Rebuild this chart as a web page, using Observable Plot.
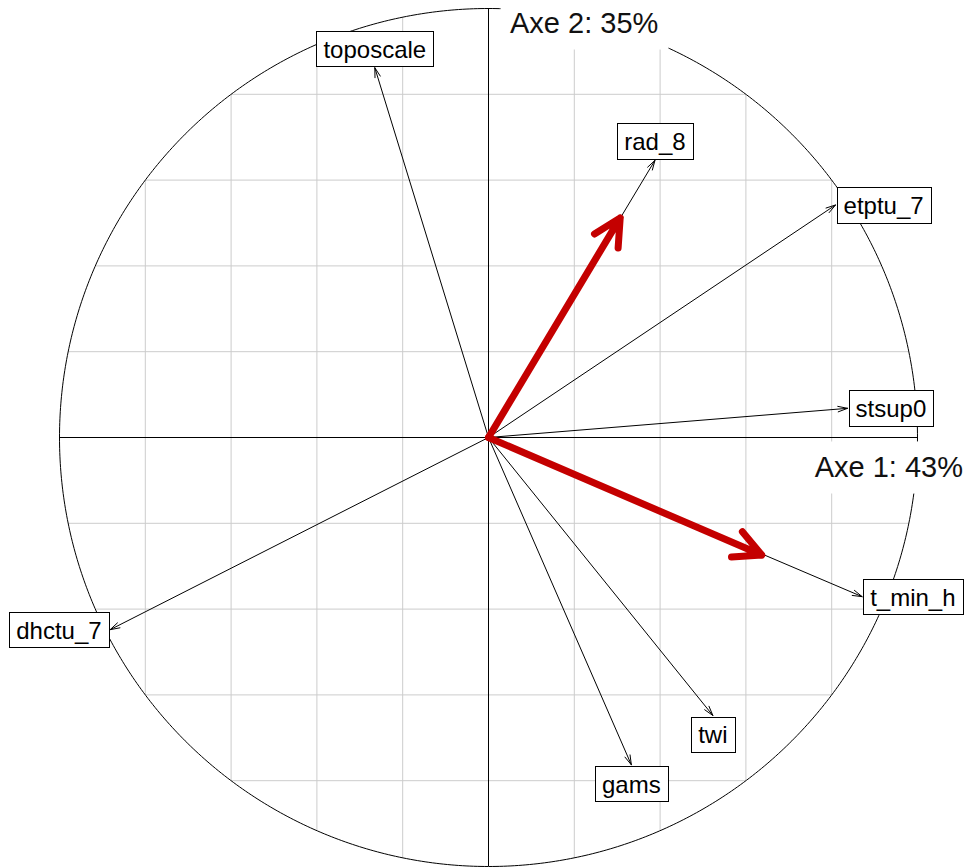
<!DOCTYPE html>
<html>
<head>
<meta charset="utf-8">
<script src="https://cdn.jsdelivr.net/npm/d3@7"></script>
<script src="https://cdn.jsdelivr.net/npm/@observablehq/plot@0.6"></script>
<style>
html, body { margin: 0; padding: 0; background: #fff; }
#chart svg { display: block; }
</style>
</head>
<body>
<div id="chart"></div>
<script>
// ---- data ----
const variables = ["toposcale", "rad_8", "etptu_7", "stsup0", "t_min_h", "twi", "gams", "dhctu_7"];
const axis1 = [-0.265, 0.388, 0.809, 0.837, 0.871, 0.523, 0.333, -0.882];
const axis2 = [0.862, 0.646, 0.542, 0.068, -0.371, -0.648, -0.763, -0.448];
const highlightX = [0.307, 0.637];
const highlightY = [0.512, -0.274];
const gridTicks = [-0.8, -0.6, -0.4, -0.2, 0.2, 0.4, 0.6, 0.8];
const axisTitles = ["Axe 1: 43%", "Axe 2: 35%"];

// ---- tables built from the arrays ----
function sideOf(x, y) {
  if (x > y && x > -y) return "right";
  if (x > y && x <= -y) return "bottom";
  if (x <= y && x <= -y) return "left";
  return "top";
}
const vars = variables.map((name, i) => ({name, x: axis1[i], y: axis2[i], side: sideOf(axis1[i], axis2[i])}));
const highlight = highlightX.map((x, i) => ({x, y: highlightY[i]}));

// unit correlation circle and grid clipped to it (geometry)
const circle = d3.range(0, 721).map(i => {
  const a = i / 720 * 2 * Math.PI;
  return {x: Math.cos(a), y: Math.sin(a)};
});
const vGrid = gridTicks.map(t => ({x1: t, x2: t, y1: -Math.sqrt(1 - t * t), y2: Math.sqrt(1 - t * t)}));
const hGrid = gridTicks.map(t => ({y1: t, y2: t, x1: -Math.sqrt(1 - t * t), x2: Math.sqrt(1 - t * t)}));

const FONT = "'Liberation Sans', Arial, Helvetica, sans-serif";
const LABEL = 24;
const TITLE = 29;

function labels(side, opts) {
  return Plot.text(vars.filter(d => d.side === side), {
    x: "x", y: "y", text: "name",
    fontSize: LABEL, fill: "black", lineAnchor: "bottom", fontFamily: FONT,
    ...opts
  });
}

const plot = Plot.plot({
  width: 969,
  height: 868,
  marginLeft: 59,
  marginRight: 52,
  marginTop: 8,
  marginBottom: 2,
  x: {domain: [-1, 1], axis: null},
  y: {domain: [-1, 1], axis: null},
  style: {fontFamily: FONT, background: "white", overflow: "visible"},
  marks: [
    Plot.link(vGrid, {x1: "x1", x2: "x2", y1: "y1", y2: "y2", stroke: "#cccccc", strokeWidth: 1}),
    Plot.link(hGrid, {x1: "x1", x2: "x2", y1: "y1", y2: "y2", stroke: "#cccccc", strokeWidth: 1}),
    Plot.line(circle, {x: "x", y: "y", stroke: "black", strokeWidth: 1}),
    Plot.ruleY([0], {x1: -1, x2: 1, stroke: "black", strokeWidth: 1}),
    Plot.ruleX([0], {y1: -1, y2: 1, stroke: "black", strokeWidth: 1}),
    Plot.arrow(vars, {x1: 0, y1: 0, x2: "x", y2: "y", stroke: "black", strokeWidth: 1, headLength: 15, headAngle: 32}),
    Plot.arrow(highlight, {x1: 0, y1: 0, x2: "x", y2: "y", stroke: "#c40000", strokeWidth: 7, headLength: 6.5, headAngle: 54, strokeLinecap: "round", strokeLinejoin: "round"}),
    labels("right", {textAnchor: "start", dx: 8, dy: 9}),
    labels("left", {textAnchor: "end", dx: -8.5, dy: 9}),
    labels("top", {textAnchor: "middle", dx: 0, dy: -10}),
    labels("bottom", {textAnchor: "middle", dx: 0, dy: 28}),
    Plot.text([axisTitles[0]], {x: 1, y: 0, text: d => d, fontSize: TITLE, fill: "#111", textAnchor: "end", lineAnchor: "bottom", dx: 45.5, dy: 39.5, fontFamily: FONT}),
    Plot.text([axisTitles[1]], {x: 0, y: 1, text: d => d, fontSize: TITLE, fill: "#111", textAnchor: "start", lineAnchor: "bottom", dx: 21.5, dy: 24.5, fontFamily: FONT})
  ]
});

const chart = document.getElementById("chart");
chart.appendChild(plot);

// ---- boxes behind the labels (like ade4 boxes) ----
const svg = chart.querySelector("svg");
const sr = svg.getBoundingClientRect();
const NS = "http://www.w3.org/2000/svg";
svg.querySelectorAll('g[aria-label="text"]').forEach(g => {
  const boxG = document.createElementNS(NS, "g");
  g.querySelectorAll("text").forEach(t => {
    const b = t.getBoundingClientRect();
    const isTitle = axisTitles.includes(t.textContent);
    const padX = isTitle ? 10 : 7;
    const padT = isTitle ? 10 : 4.9;
    const padB = isTitle ? 9.5 : 3.6;
    const x0 = b.left - sr.left - padX;
    const y0 = b.top - sr.top - padT;
    const x1 = b.right - sr.left + padX;
    const y1 = b.bottom - sr.top + padB;
    const r = document.createElementNS(NS, "rect");
    const rx = Math.round(x0) + 0.5, ry = Math.round(y0) + 0.5;
    r.setAttribute("x", rx);
    r.setAttribute("y", ry);
    r.setAttribute("width", Math.round(x1) - Math.round(x0));
    r.setAttribute("height", Math.round(y1) - Math.round(y0));
    r.setAttribute("fill", "white");
    if (!isTitle) {
      r.setAttribute("stroke", "black");
      r.setAttribute("stroke-width", 1);
    }
    boxG.appendChild(r);
  });
  g.parentNode.insertBefore(boxG, g);
});
</script>
</body>
</html>
